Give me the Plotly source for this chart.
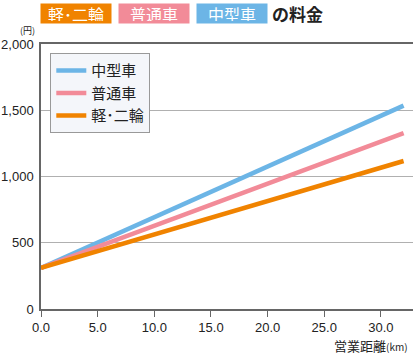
import plotly.graph_objects as go

distance_km = [0, 32]
series_names = ["中型車", "普通車", "軽･二輪"]
fare_medium = [310, 1535]
fare_standard = [310, 1328]
fare_light = [310, 1117]
colors = ["#6cb5e6", "#f28b98", "#f08300"]
x_ticks = [0, 5, 10, 15, 20, 25, 30]
y_ticks = [0, 500, 1000, 1500, 2000]

FONT = "Liberation Sans, Noto Sans CJK JP"
JP = "Noto Sans CJK JP"

fig = go.Figure()
for name, vals, c in zip(series_names, [fare_medium, fare_standard, fare_light], colors):
    fig.add_trace(go.Scatter(x=distance_km, y=vals, mode="lines", name=name,
                             line=dict(color=c, width=4.5)))

fig.update_layout(
    width=413, height=354,
    margin=dict(l=41, r=0, t=44, b=45),
    paper_bgcolor="white", plot_bgcolor="white",
    showlegend=True,
    legend=dict(x=0.025, y=0.965, xanchor="left", yanchor="top",
                bgcolor="#f4f6fa", bordercolor="#999999", borderwidth=1,
                font=dict(family=JP, size=15, color="#222"),
                tracegroupgap=0, itemwidth=30),
    font=dict(family=FONT, size=13, color="#222"),
)
fig.update_xaxes(range=[0, 32.83], tickvals=x_ticks,
                 ticktext=[f"{v:.1f}" for v in x_ticks],
                 showgrid=False, zeroline=False,
                 showline=True, linecolor="#666", linewidth=1.5, mirror=True,
                 ticks="outside", ticklen=6, tickcolor="#666",
                 tickfont=dict(size=13, family=FONT))
fig.update_yaxes(range=[0, 2000], tickvals=y_ticks,
                 ticktext=["0", "500", "1,000", "1,500", "2,000"],
                 showgrid=True, gridcolor="#b0b0b0", gridwidth=1, zeroline=False,
                 showline=True, linecolor="#666", linewidth=1.5,
                 ticks="", ticklabelstandoff=3,
                 tickfont=dict(size=13, family=FONT))

title_y = (354 - 13 - 45) / 265
boxes = [("軽･二輪", colors[2], 76), ("普通車", colors[1], 154), ("中型車", colors[0], 232)]
for txt, c, cx in boxes:
    fig.add_annotation(xref="paper", yref="paper", x=(cx - 41) / 372, y=title_y,
                       xanchor="center", yanchor="middle", showarrow=False,
                       text=txt, bgcolor=c, width=66, height=15, borderpad=2,
                       font=dict(family=JP, size=16, color="white"))
fig.add_annotation(xref="paper", yref="paper", x=(270 - 41) / 372, y=title_y,
                   xanchor="left", yanchor="middle", showarrow=False,
                   text="<b>の料金</b>", font=dict(family=JP, size=17, color="#222"))
fig.add_annotation(xref="paper", yref="paper", x=-4 / 372, y=1 + 14 / 265,
                   xanchor="right", yanchor="middle", showarrow=False,
                   text="(円)", font=dict(family=JP, size=9, color="#222"))
fig.add_annotation(xref="paper", yref="paper", x=1 - 3 / 372, y=-36 / 265,
                   xanchor="right", yanchor="middle", showarrow=False,
                   text="営業距離<span style='font-size:10px'>(km)</span>",
                   font=dict(family=JP, size=13, color="#222"))

fig.write_html("out.html")
